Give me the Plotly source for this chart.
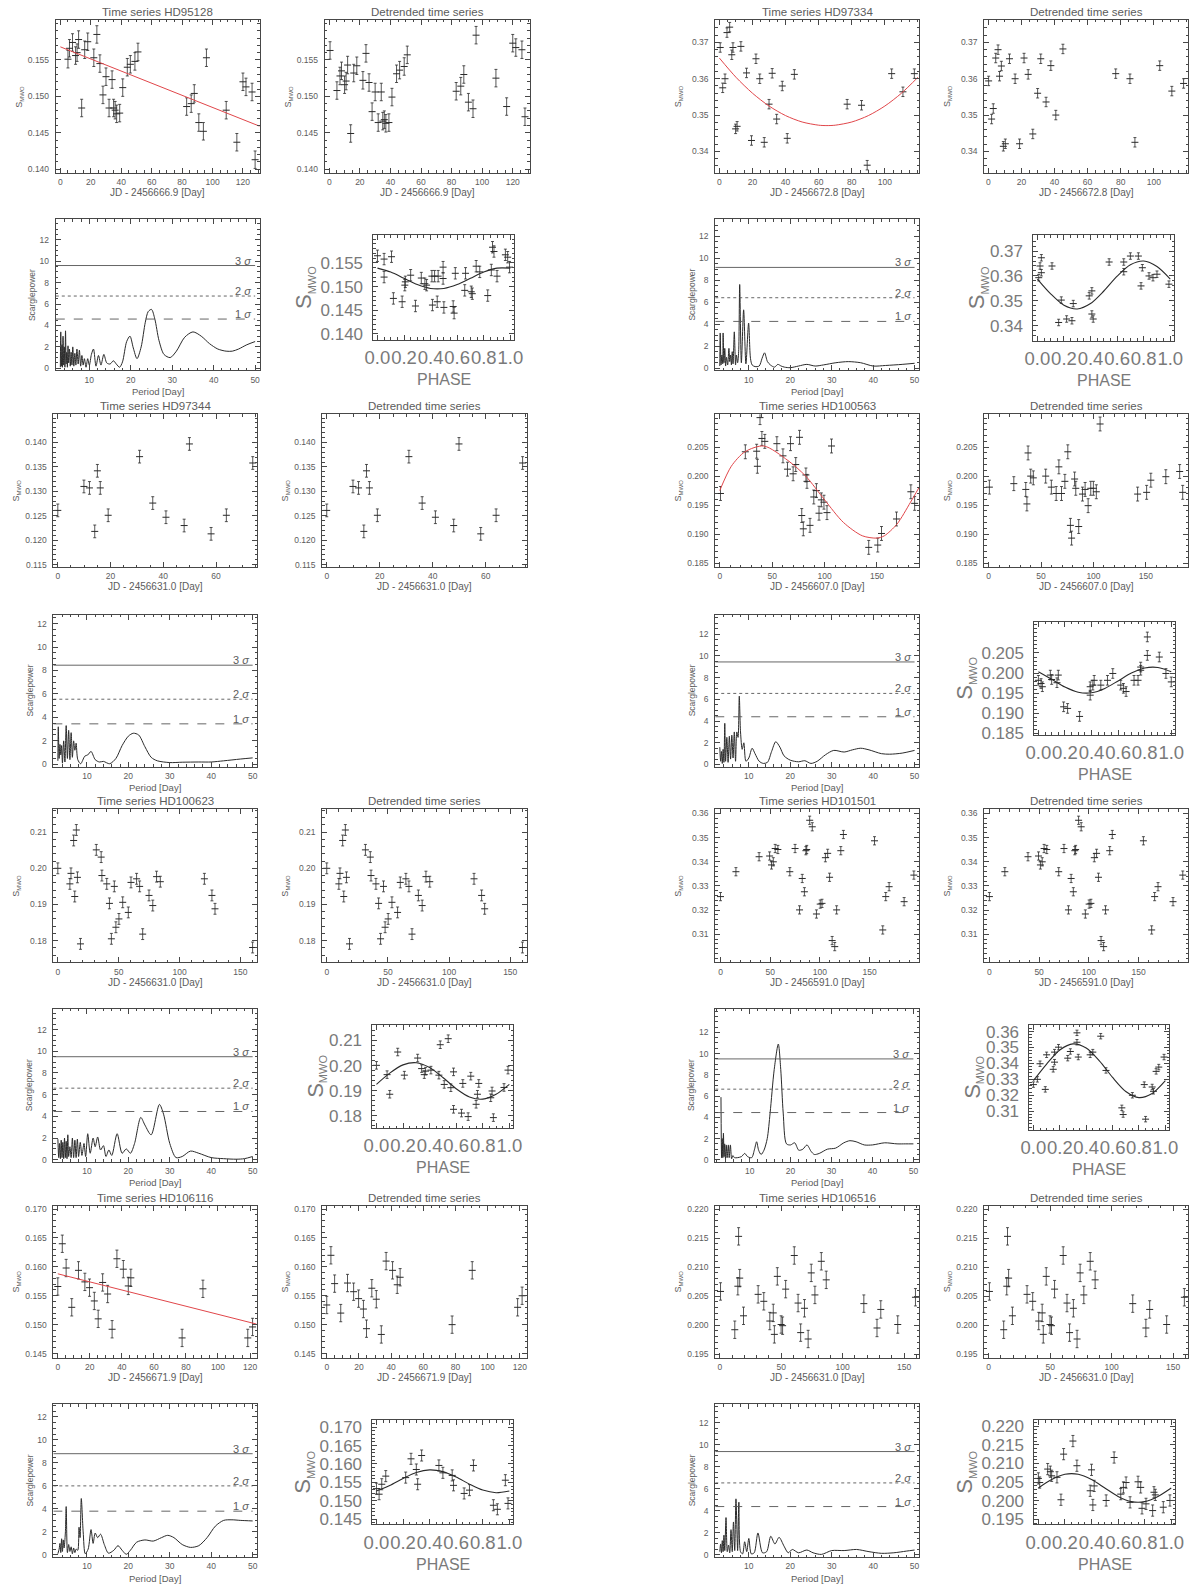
import plotly.graph_objects as go

W, H = 1200, 1590

# ====================== DATA ======================
PHASE_GRID = [0.0, 0.1, 0.2, 0.3, 0.4, 0.5, 0.6, 0.7, 0.8, 0.9, 1.0]

# ---- HD95128 ----
T_HD95128 = [5, 6, 8, 10, 11, 12, 14, 16, 18, 22, 24, 26, 28, 30, 32, 34, 35, 36, 37, 39, 41, 44, 46, 49, 51,
             83, 86, 88, 91, 94, 96, 109, 116, 120, 122, 126, 128]
S_HD95128 = [0.1551, 0.1566, 0.1574, 0.1556, 0.1560, 0.1578, 0.1484, 0.1564, 0.1575, 0.1553, 0.1585, 0.1545,
             0.1502, 0.1527, 0.1484, 0.1523, 0.1484, 0.1481, 0.1476, 0.1477, 0.1512, 0.1540, 0.1544, 0.1548,
             0.1561, 0.1486, 0.1490, 0.1504, 0.1464, 0.1452, 0.1553, 0.1481, 0.1437, 0.1520, 0.1513, 0.1506, 0.1413]
TD_HD95128 = [0.5, 5, 7, 8, 10, 11, 12, 14, 16, 18, 22, 24, 26, 28, 30, 32, 34, 35, 36, 37, 39, 41, 44, 46, 49, 51,
              83, 86, 88, 91, 94, 96, 109, 116, 120, 122, 126, 128]
SD_HD95128 = [0.1563, 0.1508, 0.1528, 0.1535, 0.1516, 0.1521, 0.1543, 0.1449, 0.1532, 0.1542, 0.1522, 0.1559,
              0.1519, 0.1479, 0.1506, 0.1464, 0.1506, 0.1466, 0.1468, 0.1463, 0.1464, 0.1499, 0.1531, 0.1536,
              0.1541, 0.1557, 0.1507, 0.1514, 0.1530, 0.1492, 0.1483, 0.1584, 0.1525, 0.1486, 0.1573, 0.1567,
              0.1564, 0.1472]
FIT_T_HD95128 = [0, 131]
FIT_S_HD95128 = [0.1568, 0.1459]
PER_HD95128 = [3.0, 3.1, 3.25, 3.4, 3.5, 3.65, 3.8, 3.95, 4.1, 4.25, 4.4, 4.55, 4.7, 4.85, 5.0, 5.2, 5.4, 5.6, 5.8,
               6.0, 6.25, 6.5, 6.75, 7.0, 7.3, 7.6, 7.9, 8.2, 8.5, 8.8, 9.2, 9.6, 10.0, 10.5, 11.0, 11.6, 12.2, 12.8,
               13.5, 14.2, 15.0, 15.8, 16.5, 17.3, 18.0, 19.0, 19.8, 20.6, 21.5, 22.5, 23.5, 24.2, 25.0, 25.8, 26.8,
               28.0, 29.5, 31.0, 33.0, 35.0, 37.0, 39.0, 41.0, 43.0, 44.5, 46.0, 48.0, 50.0]
POW_HD95128 = [0.1, 3.4, 0.2, 2.2, 0.1, 3.0, 0.3, 2.0, 0.1, 3.5, 0.4, 1.5, 0.1, 2.1, 0.5, 1.8, 0.2, 1.5, 0.3, 2.0,
               0.2, 1.4, 0.3, 1.8, 0.4, 1.7, 0.2, 1.2, 0.3, 0.9, 0.1, 0.9, 0.3, 1.3, 1.8, 0.2, 1.2, 0.3, 1.3, 0.5,
               0.4, 0.7, 0.4, 0.1, 0.6, 2.5, 3.0, 1.9, 0.9, 2.0, 4.3, 5.3, 5.5, 4.6, 2.6, 1.3, 1.0, 1.6, 2.9, 3.4,
               3.0, 2.3, 1.8, 1.6, 1.6, 1.8, 2.2, 2.5]
SIG_HD95128 = [4.6, 6.75, 9.6]
PH_HD95128 = [0.0, 0.05, 0.05, 0.106, 0.12, 0.186, 0.206, 0.21, 0.25, 0.286, 0.33, 0.357, 0.37, 0.41, 0.414, 0.43,
              0.45, 0.457, 0.494, 0.494, 0.5, 0.57, 0.577, 0.586, 0.657, 0.663, 0.706, 0.714, 0.743, 0.77, 0.83,
              0.857, 0.866, 0.877, 0.9, 0.963, 0.98, 0.994]
PHS_HD95128 = [0.1565, 0.1520, 0.1558, 0.1563, 0.1475, 0.1468, 0.1503, 0.1510, 0.1524, 0.1459, 0.1518, 0.1506,
               0.1503, 0.1522, 0.1461, 0.1522, 0.1468, 0.1522, 0.1541, 0.1517, 0.1456, 0.1458, 0.1444, 0.1528,
               0.1492, 0.1528, 0.1489, 0.1485, 0.1543, 0.1531, 0.1481, 0.1535, 0.1583, 0.1574, 0.1522, 0.1567,
               0.1562, 0.1541]
PHC_HD95128 = [0.15389, 0.15307, 0.15175, 0.15043, 0.14961, 0.14961, 0.15043, 0.15175, 0.15307, 0.15389, 0.15389]
ERR_HD95128 = 0.0012

# ---- HD97334 ----
T_HD97334 = [0.5, 2, 3.4, 4.6, 6.2, 7.5, 8.2, 9.8, 10.7, 13, 16.4, 19.4, 22.1, 24.4, 27.1, 30, 31.9, 34.6, 38, 41,
             45.3, 77.2, 85.9, 89.3, 104.1, 110.9, 117.8]
S_HD97334 = [0.3686, 0.3575, 0.3600, 0.3727, 0.3742, 0.3666, 0.3686, 0.3462, 0.3469, 0.3689, 0.3616, 0.3430,
             0.3655, 0.3600, 0.3425, 0.3530, 0.3615, 0.3489, 0.3580, 0.3436, 0.3612, 0.3530, 0.3527, 0.3362,
             0.3614, 0.3564, 0.3614]
TD_HD97334 = [0.2, 2, 3, 4.5, 5.9, 6.8, 7.9, 9.1, 10.3, 12.8, 16.2, 18.9, 21.6, 24.1, 26.9, 29.8, 31.7, 34.9, 37.8,
              40.8, 45.1, 77, 85.6, 88.6, 103.6, 110.9, 118]
SD_HD97334 = [0.3594, 0.3489, 0.3518, 0.3657, 0.3680, 0.3607, 0.3635, 0.3414, 0.3421, 0.3655, 0.3600, 0.3421,
              0.3657, 0.3612, 0.3448, 0.3560, 0.3655, 0.3536, 0.3636, 0.3500, 0.3682, 0.3614, 0.3600, 0.3425,
              0.3636, 0.3566, 0.3587]
FIT_T_HD97334 = [0, 10, 20, 30, 40, 50, 60, 65, 70, 80, 90, 100, 110, 120]
FIT_S_HD97334 = [0.36569, 0.36041, 0.35601, 0.35249, 0.34985, 0.34809, 0.34721, 0.34710, 0.34721, 0.34809,
                 0.34985, 0.35249, 0.35601, 0.36041]
PER_HD97334 = [3.0, 3.1, 3.3, 3.5, 3.7, 3.8, 4.0, 4.2, 4.4, 4.6, 4.9, 5.2, 5.4, 5.6, 5.8, 6.0, 6.2, 6.5, 6.8, 7.0,
               7.3, 7.55, 7.8, 8.2, 8.75, 9.3, 9.95, 10.4, 10.8, 11.5, 12.5, 13.2, 13.8, 14.5, 15.2, 16.2, 17.0,
               17.8, 18.6, 20.0, 22.0, 24.0, 26.0, 28.0, 31.0, 34.0, 37.0, 40.0, 43.0, 47.0, 50.0]
POW_HD97334 = [0.2, 3.2, 0.3, 1.2, 0.4, 3.2, 0.5, 1.8, 0.2, 1.0, 0.3, 1.8, 0.6, 1.2, 0.3, 1.5, 0.4, 3.3, 0.3, 1.2,
               0.5, 1.5, 7.6, 0.5, 5.3, 0.4, 4.1, 0.9, 0.3, 0.15, 0.2, 0.9, 1.4, 0.6, 0.3, 0.1, 0.35, 0.2, 0.1,
               0.05, 0.2, 0.35, 0.2, 0.3, 0.5, 0.6, 0.5, 0.2, 0.25, 0.35, 0.45]
SIG_HD97334 = [4.25, 6.4, 9.15]
PH_HD97334 = [0.01, 0.02, 0.03, 0.03, 0.11, 0.16, 0.18, 0.22, 0.26, 0.27, 0.39, 0.41, 0.41, 0.42, 0.54, 0.65, 0.65,
              0.70, 0.76, 0.78, 0.79, 0.84, 0.87, 0.90, 0.99]
PHS_HD97334 = [0.3593, 0.3640, 0.3673, 0.3613, 0.3640, 0.3413, 0.3503, 0.3427, 0.3420, 0.3489, 0.3520, 0.3540,
               0.3447, 0.3427, 0.3656, 0.3656, 0.3617, 0.3680, 0.3680, 0.3560, 0.3633, 0.3600, 0.3593, 0.3607,
               0.3567]
PHC_HD97334 = [0.35874, 0.35280, 0.34820, 0.34672, 0.34891, 0.35395, 0.35990, 0.36449, 0.36598, 0.36379, 0.35875]
ERR_HD97334 = 0.0013

# ---- HD97344 ----
T_HD97344 = [0, 9.9, 12, 14, 15, 16.1, 19.1, 31, 36, 41, 47.9, 49.9, 58.1, 63.9, 73.9]
S_HD97344 = [0.1261, 0.1310, 0.1307, 0.1218, 0.1342, 0.1307, 0.1251, 0.1371, 0.1276, 0.1247, 0.1230, 0.1397,
             0.1213, 0.1251, 0.1358]
TD_HD97344 = [0, 9.9, 12, 14, 15, 16.1, 19.1, 31, 36, 41, 47.9, 49.9, 58.1, 63.9, 73.9]
SD_HD97344 = [0.1261, 0.1310, 0.1307, 0.1218, 0.1342, 0.1307, 0.1251, 0.1371, 0.1276, 0.1247, 0.1230, 0.1397,
              0.1213, 0.1251, 0.1358]
PER_HD97344 = [3.0, 3.1, 3.3, 3.5, 3.7, 3.9, 4.1, 4.4, 4.7, 5.0, 5.3, 5.6, 5.9, 6.2, 6.5, 6.8, 7.1, 7.4, 7.8, 8.5,
               9.5, 10.2, 11.0, 12.0, 13.0, 14.0, 15.5, 17.0, 18.5, 20.0, 21.2, 22.5, 24.0, 25.5, 27.0, 30.0, 33.0,
               37.0, 40.0, 43.0, 47.0, 50.0]
POW_HD97344 = [0.3, 3.2, 0.5, 1.7, 0.8, 1.6, 0.1, 2.0, 0.2, 3.3, 0.5, 2.9, 0.4, 2.7, 0.6, 2.0, 1.2, 1.8, 0.4, 0.05,
               0.7, 0.8, 1.1, 0.4, 0.2, 0.25, 0.05, 0.5, 1.6, 2.4, 2.65, 2.5, 1.5, 0.6, 0.3, 0.15, 0.18, 0.2, 0.2,
               0.3, 0.45, 0.55]
SIG_HD97344 = [3.45, 5.55, 8.45]
ERR_HD97344 = 0.0013

# ---- HD100563 ----
T_HD100563 = [0.7, 24.4, 35.2, 35.9, 38.4, 40.2, 43, 54.5, 60.3, 64.6, 67.5, 70, 72.5, 76.1, 78.2, 79.7, 82.2,
              83.2, 86.1, 89.7, 92.2, 94.7, 96.9, 99.4, 102.3, 106.6, 142.1, 150.7, 154.3, 168.6, 182.3, 185.9]
S_HD100563 = [0.1970, 0.2042, 0.2043, 0.2017, 0.2101, 0.2065, 0.2060, 0.2056, 0.2035, 0.2012, 0.2056, 0.2004,
              0.2020, 0.2067, 0.1932, 0.1909, 0.2002, 0.1991, 0.1915, 0.1964, 0.1975, 0.1936, 0.1959, 0.1955,
              0.1937, 0.2052, 0.1877, 0.1881, 0.1901, 0.1926, 0.1973, 0.1953]
TD_HD100563 = [0.7, 24, 35.4, 36.5, 37.6, 40.1, 42.6, 54.4, 59.8, 64.4, 67, 69.5, 72.7, 75.5, 78, 79.1, 82, 83.1,
               85.9, 89.5, 92, 94.9, 97.4, 99.9, 102.7, 106.3, 142.1, 150.7, 154.7, 169, 182.2, 185.1]
SD_HD100563 = [0.1981, 0.1987, 0.1977, 0.1952, 0.2040, 0.2000, 0.1997, 0.2000, 0.1981, 0.1970, 0.2016, 0.1970,
               0.1991, 0.2042, 0.1915, 0.1893, 0.1995, 0.1979, 0.1913, 0.1969, 0.1977, 0.1949, 0.1979, 0.1979,
               0.1973, 0.2090, 0.1969, 0.1972, 0.1993, 0.1999, 0.2008, 0.1972]
FIT_T_HD100563 = [0, 11, 24, 42, 65, 82, 100, 118, 136, 150, 157, 169, 182, 190]
FIT_S_HD100563 = [0.1975, 0.2017, 0.2042, 0.2052, 0.2027, 0.2000, 0.1959, 0.1920, 0.1897, 0.1893, 0.1897, 0.1917,
                  0.1955, 0.1980]
PER_HD100563 = [3.0, 3.2, 3.4, 3.6, 3.8, 4.0, 4.2, 4.4, 4.7, 5.0, 5.3, 5.6, 5.9, 6.2, 6.5, 6.8, 7.1, 7.4, 7.7, 8.0,
                8.4, 8.8, 9.3, 10.0, 10.8, 11.5, 12.5, 13.5, 14.5, 15.5, 16.5, 17.5, 18.5, 20.0, 22.0, 23.5, 25.0,
                26.5, 28.5, 30.5, 33.0, 35.0, 37.0, 39.0, 42.0, 44.0, 47.0, 50.0]
POW_HD100563 = [1.6, 0.3, 1.2, 0.1, 1.4, 0.2, 3.8, 0.3, 2.5, 0.2, 2.6, 0.5, 2.7, 0.6, 3.0, 0.3, 3.0, 2.5, 6.3, 3.0,
                1.4, 2.0, 0.3, 0.6, 1.5, 1.0, 0.3, 0.1, 0.2, 1.2, 2.1, 1.6, 0.8, 0.4, 0.25, 0.35, 0.1, 0.3, 0.9,
                1.3, 1.15, 1.35, 1.5, 1.35, 1.0, 0.95, 1.05, 1.3]
SIG_HD100563 = [4.4, 6.55, 9.45]
PH_HD100563 = [0.0, 0.02, 0.03, 0.09, 0.10, 0.14, 0.15, 0.19, 0.22, 0.31, 0.39, 0.39, 0.41, 0.42, 0.47, 0.52, 0.56,
               0.62, 0.64, 0.66, 0.72, 0.75, 0.77, 0.77, 0.82, 0.82, 0.91, 0.96, 1.0]
PHS_HD100563 = [0.1982, 0.1974, 0.1966, 0.1995, 0.1984, 0.1976, 0.1995, 0.1916, 0.1912, 0.1892, 0.1966, 0.1945,
                0.1970, 0.1982, 0.1970, 0.1982, 0.1999, 0.1970, 0.1962, 0.1954, 0.1982, 0.1982, 0.2015, 0.2007,
                0.2090, 0.2044, 0.2040, 0.1999, 0.1978]
PHC_HD100563 = [0.20032, 0.19845, 0.19651, 0.19523, 0.19510, 0.19618, 0.19805, 0.19999, 0.20127, 0.20140, 0.20032]
ERR_HD100563 = 0.0012

# ---- HD100623 ----
T_HD100623 = [0, 9.9, 10.8, 13, 13.9, 15.2, 16.1, 18.6, 31.6, 35.6, 36.2, 40.2, 42.4, 44, 46.4, 47.7, 50.2, 53.3,
              57.9, 60.1, 64.7, 67.2, 69.7, 74.9, 78, 81.1, 84.2, 120.4, 126.6, 129.1, 160]
S_HD100623 = [0.2000, 0.1957, 0.1986, 0.2077, 0.1922, 0.2106, 0.1975, 0.1791, 0.2051, 0.2031, 0.1980, 0.1957,
              0.1903, 0.1805, 0.1950, 0.1837, 0.1860, 0.1906, 0.1878, 0.1961, 0.1971, 0.1950, 0.1818, 0.1925,
              0.1897, 0.1977, 0.1963, 0.1971, 0.1925, 0.1888, 0.1781]
TD_HD100623 = [0, 9.9, 10.8, 13, 13.9, 15.2, 16.1, 18.6, 31.6, 35.6, 36.2, 40.2, 42.4, 44, 46.4, 47.7, 50.2, 53.3,
               57.9, 60.1, 64.7, 67.2, 69.7, 74.9, 78, 81.1, 84.2, 120.4, 126.6, 129.1, 160]
SD_HD100623 = [0.2000, 0.1957, 0.1986, 0.2077, 0.1922, 0.2106, 0.1975, 0.1791, 0.2051, 0.2031, 0.1980, 0.1957,
               0.1903, 0.1805, 0.1950, 0.1837, 0.1860, 0.1906, 0.1878, 0.1961, 0.1971, 0.1950, 0.1818, 0.1925,
               0.1897, 0.1977, 0.1963, 0.1971, 0.1925, 0.1888, 0.1781]
PER_HD100623 = [3.0, 3.2, 3.4, 3.6, 3.8, 4.0, 4.2, 4.4, 4.6, 4.8, 5.0, 5.2, 5.4, 5.6, 5.9, 6.2, 6.5, 6.8, 7.1, 7.4,
                7.7, 8.0, 8.4, 8.8, 9.3, 9.7, 10.2, 10.8, 11.5, 12.0, 12.6, 13.3, 14.0, 14.6, 15.3, 16.0, 17.3,
                18.5, 19.5, 20.5, 21.5, 23.0, 24.0, 25.5, 27.5, 28.5, 30.0, 31.5, 33.0, 35.0, 37.0, 40.0, 43.0,
                46.0, 48.0, 50.0]
POW_HD100623 = [1.9, 0.2, 1.5, 0.1, 1.8, 0.2, 1.6, 0.1, 2.0, 0.2, 1.7, 0.1, 2.3, 0.3, 1.2, 0.2, 2.0, 0.2, 1.8, 0.2,
                1.9, 0.3, 1.6, 0.4, 1.5, 0.3, 2.4, 0.6, 2.0, 1.2, 2.1, 0.9, 1.3, 0.3, 0.9, 0.4, 2.4, 0.6, 1.0, 0.6,
                1.5, 3.9, 3.2, 2.3, 5.1, 4.2, 1.5, 0.2, 0.3, 0.8, 0.6, 0.2, 0.1, 0.05, 0.1, 0.3]
SIG_HD100623 = [4.45, 6.6, 9.5]
PH_HD100623 = [0.0, 0.08, 0.10, 0.16, 0.21, 0.31, 0.34, 0.36, 0.37, 0.41, 0.47, 0.48, 0.51, 0.54, 0.56, 0.58, 0.58,
               0.64, 0.65, 0.69, 0.71, 0.75, 0.76, 0.77, 0.86, 0.87, 0.88, 0.96, 0.99]
PHS_HD100623 = [0.2001, 0.1964, 0.1886, 0.2054, 0.1962, 0.2030, 0.1988, 0.1964, 0.1978, 0.1982, 0.1962, 0.2083,
                0.1925, 0.2107, 0.1912, 0.1975, 0.1826, 0.1811, 0.1929, 0.1797, 0.1958, 0.1846, 0.1886, 0.1929,
                0.1872, 0.1899, 0.1793, 0.1913, 0.1982]
PHC_HD100623 = [0.19254, 0.19701, 0.20029, 0.20114, 0.19922, 0.19527, 0.19079, 0.18751, 0.18666, 0.18858, 0.19254]
ERR_HD100623 = 0.0015

# ---- HD101501 ----
T_HD101501 = [0, 15.5, 38.8, 49.4, 51.3, 53.1, 55, 57.7, 69.7, 75, 79.5, 82.2, 84.4, 85.9, 86.7, 89.7, 92.3, 96.5,
              100.3, 102.1, 105.5, 107.8, 109.7, 112.3, 114.9, 116.8, 121, 123.6, 154.9, 163.2, 166.2, 169.6,
              184.7, 194.5]
S_HD101501 = [0.3256, 0.3359, 0.3421, 0.3424, 0.3387, 0.3400, 0.3455, 0.3451, 0.3359, 0.3455, 0.3201, 0.3331,
              0.3276, 0.3446, 0.3451, 0.3572, 0.3545, 0.3184, 0.3225, 0.3228, 0.3417, 0.3435, 0.3336, 0.3074,
              0.3049, 0.3201, 0.3446, 0.3513, 0.3487, 0.3118, 0.3256, 0.3297, 0.3235, 0.3345]
TD_HD101501 = [0, 15.5, 38.8, 49.4, 51.3, 53.1, 55, 57.7, 69.7, 75, 79.5, 82.2, 84.4, 85.9, 86.7, 89.7, 92.3, 96.5,
               100.3, 102.1, 105.5, 107.8, 109.7, 112.3, 114.9, 116.8, 121, 123.6, 154.9, 163.2, 166.2, 169.6,
               184.7, 194.5]
SD_HD101501 = [0.3256, 0.3359, 0.3421, 0.3424, 0.3387, 0.3400, 0.3455, 0.3451, 0.3359, 0.3455, 0.3201, 0.3331,
               0.3276, 0.3446, 0.3451, 0.3572, 0.3545, 0.3184, 0.3225, 0.3228, 0.3417, 0.3435, 0.3336, 0.3074,
               0.3049, 0.3201, 0.3446, 0.3513, 0.3487, 0.3118, 0.3256, 0.3297, 0.3235, 0.3345]
PER_HD101501 = [3.0, 3.15, 3.3, 3.45, 3.6, 3.75, 3.9, 4.1, 4.3, 4.5, 4.8, 5.0, 5.3, 5.6, 5.9, 6.3, 7.0, 8.0, 8.8,
                9.5, 10.5, 11.2, 11.7, 12.2, 12.8, 13.5, 14.3, 15.0, 16.0, 17.0, 17.6, 18.2, 19.0, 20.0, 21.0,
                22.0, 23.0, 24.0, 25.0, 25.8, 27.0, 29.0, 31.0, 33.0, 34.5, 36.0, 38.0, 40.0, 43.0, 46.0, 48.0, 50.0]
POW_HD101501 = [5.9, 0.2, 2.0, 0.2, 2.5, 0.3, 1.5, 0.1, 1.4, 0.2, 1.4, 0.2, 1.4, 0.1, 0.4, 0.2, 0.2, 0.3, 0.6, 0.3,
                0.2, 1.0, 1.7, 0.9, 0.5, 0.9, 2.0, 4.4, 8.5, 10.9, 8.5, 4.4, 1.5, 1.4, 1.6, 0.9, 1.0, 1.4, 0.8, 0.5,
                0.6, 1.0, 1.1, 1.6, 1.8, 1.7, 1.4, 1.4, 1.6, 1.5, 1.5, 1.5]
SIG_HD101501 = [4.45, 6.65, 9.5]
PH_HD101501 = [0.0, 0.03, 0.05, 0.09, 0.10, 0.15, 0.16, 0.16, 0.19, 0.26, 0.28, 0.33, 0.33, 0.34, 0.43, 0.45, 0.51,
               0.55, 0.67, 0.68, 0.75, 0.84, 0.85, 0.90, 0.91, 0.93, 0.95, 0.99]
PHS_HD101501 = [0.3267, 0.3300, 0.3398, 0.3237, 0.3454, 0.3363, 0.3408, 0.3471, 0.3502, 0.3433, 0.3475, 0.3592,
                0.3533, 0.3440, 0.3454, 0.3471, 0.3571, 0.3356, 0.3121, 0.3079, 0.3200, 0.3267, 0.3050, 0.3252,
                0.3225, 0.3350, 0.3377, 0.3440]
PHC_HD101501 = [0.32918, 0.33961, 0.34843, 0.35227, 0.34966, 0.34162, 0.33119, 0.32237, 0.31853, 0.32114, 0.32918]
ERR_HD101501 = 0.0017

# ---- HD106116 ----
T_HD106116 = [0, 2.8, 5.2, 8.7, 12.9, 16.9, 19.8, 22.8, 25.2, 28, 31.1, 33.9, 36.9, 40.9, 44, 45.6, 77.6, 90.6,
              118.6, 121.6]
S_HD106116 = [0.1566, 0.1640, 0.1598, 0.1530, 0.1594, 0.1574, 0.1564, 0.1541, 0.1510, 0.1573, 0.1553, 0.1492,
              0.1614, 0.1596, 0.1567, 0.1581, 0.1477, 0.1562, 0.1477, 0.1496]
TD_HD106116 = [0, 2.6, 4.9, 8.7, 12.9, 16.7, 19.8, 22.8, 24.7, 28, 30.8, 33.9, 36.9, 40.9, 43.8, 45.6, 77.9, 90.4,
               118.6, 121.4]
SD_HD106116 = [0.1534, 0.1620, 0.1571, 0.1520, 0.1572, 0.1557, 0.1545, 0.1527, 0.1493, 0.1563, 0.1544, 0.1483,
               0.1610, 0.1594, 0.1569, 0.1582, 0.1500, 0.1594, 0.1530, 0.1550]
FIT_T_HD106116 = [0, 124]
FIT_S_HD106116 = [0.1588, 0.1501]
PER_HD106116 = [3.0, 3.3, 3.5, 3.7, 3.9, 4.1, 4.3, 4.5, 4.8, 5.0, 5.3, 5.6, 5.9, 6.2, 6.5, 6.8, 7.1, 7.4, 7.8, 8.1,
                8.35, 8.65, 9.1, 9.6, 10.3, 11.0, 11.5, 12.0, 12.6, 13.3, 14.2, 15.2, 16.5, 17.5, 18.5, 19.5, 20.5,
                22.0, 24.0, 26.0, 28.0, 29.5, 31.0, 33.0, 35.0, 37.0, 39.0, 41.0, 43.0, 45.0, 47.0, 50.0]
POW_HD106116 = [0.1, 0.5, 1.0, 0.2, 1.4, 0.3, 1.3, 0.6, 1.9, 4.2, 0.2, 0.9, 0.3, 0.7, 0.1, 0.6, 0.2, 0.5, 0.4, 2.4,
                1.5, 4.9, 2.0, 0.1, 0.5, 2.2, 1.0, 1.9, 1.5, 1.8, 0.9, 0.15, 0.4, 0.8, 0.4, 0.05, 0.4, 1.1, 1.3, 1.2,
                1.5, 1.7, 1.5, 0.9, 0.65, 0.8, 1.5, 2.5, 3.0, 3.05, 3.0, 2.95]
SIG_HD106116 = [3.8, 6.0, 8.8]
PH_HD106116 = [0.0, 0.02, 0.04, 0.07, 0.22, 0.26, 0.30, 0.31, 0.34, 0.47, 0.50, 0.57, 0.58, 0.66, 0.70, 0.73, 0.88,
               0.91, 0.97, 0.99]
PHS_HD106116 = [0.1533, 0.1518, 0.1545, 0.1567, 0.1563, 0.1614, 0.1585, 0.1545, 0.1623, 0.1596, 0.1576, 0.1569,
                0.1542, 0.1520, 0.1529, 0.1596, 0.1488, 0.1477, 0.1556, 0.1493]
PHC_HD106116 = [0.15268, 0.15416, 0.15607, 0.15769, 0.15839, 0.15792, 0.15644, 0.15453, 0.15291, 0.15221, 0.15268]
ERR_HD106116 = 0.0015

# ---- HD106516 ----
T_HD106516 = [0.6, 12.2, 14.7, 15.3, 16.2, 19.3, 31.2, 35.8, 40.7, 43.5, 44.4, 46.8, 49.9, 51.1, 53.6, 60.6, 63.7,
              65.8, 68.9, 71.9, 74.4, 77.4, 82.6, 86.6, 117.2, 127.9, 131, 144.8, 159.2]
S_HD106516 = [0.2058, 0.1992, 0.2067, 0.2153, 0.2081, 0.2016, 0.2053, 0.2041, 0.2007, 0.2021, 0.1984, 0.2084,
              0.2001, 0.1999, 0.2062, 0.2120, 0.2038, 0.1987, 0.2029, 0.1976, 0.2090, 0.2052, 0.2110, 0.2078,
              0.2037, 0.1995, 0.2027, 0.2001, 0.2048]
TD_HD106516 = [0.6, 12.2, 14.7, 15.3, 16.2, 19.3, 31.2, 35.8, 40.7, 43.5, 44.4, 46.8, 49.9, 51.1, 53.6, 60.6, 63.7,
               65.8, 68.9, 71.9, 74.4, 77.4, 82.6, 86.6, 117.2, 127.9, 131, 144.8, 159.2]
SD_HD106516 = [0.2058, 0.1992, 0.2067, 0.2153, 0.2081, 0.2016, 0.2053, 0.2041, 0.2007, 0.2021, 0.1984, 0.2084,
               0.2001, 0.1999, 0.2062, 0.2120, 0.2038, 0.1987, 0.2029, 0.1976, 0.2090, 0.2052, 0.2110, 0.2078,
               0.2037, 0.1995, 0.2027, 0.2001, 0.2048]
PER_HD106516 = [3.0, 3.2, 3.4, 3.6, 3.8, 4.0, 4.2, 4.5, 4.8, 5.1, 5.4, 5.7, 6.0, 6.3, 6.6, 6.9, 7.3, 7.6, 8.0, 8.5,
                9.0, 9.5, 10.0, 10.6, 11.3, 12.2, 13.3, 14.3, 15.3, 16.3, 17.3, 18.5, 19.5, 20.5, 22.0, 24.0, 25.5,
                27.5, 30.0, 33.0, 36.0, 39.0, 42.0, 45.0, 48.0, 50.0]
POW_HD106516 = [0.3, 1.0, 0.2, 1.3, 0.3, 1.8, 0.4, 3.4, 0.3, 0.9, 0.2, 2.3, 0.3, 3.0, 0.4, 5.1, 0.4, 4.8, 0.3, 0.1,
                1.2, 0.3, 1.5, 0.1, 0.2, 2.0, 0.2, 0.3, 1.7, 1.0, 1.6, 0.8, 0.2, 0.5, 0.2, 0.45, 0.2, 0.05, 0.4, 0.4,
                0.5, 0.3, 0.15, 0.2, 0.35, 0.45]
SIG_HD106516 = [4.4, 6.55, 9.4]
PH_HD106516 = [0.0, 0.01, 0.07, 0.09, 0.10, 0.14, 0.17, 0.19, 0.26, 0.29, 0.39, 0.40, 0.41, 0.42, 0.51, 0.57, 0.62,
               0.64, 0.66, 0.69, 0.75, 0.77, 0.78, 0.81, 0.86, 0.87, 0.88, 0.94, 0.99]
PHS_HD106516 = [0.2060, 0.2049, 0.2085, 0.2078, 0.2067, 0.2063, 0.2003, 0.2125, 0.2160, 0.2094, 0.2027, 0.2083,
                0.1989, 0.2040, 0.2001, 0.2116, 0.2018, 0.2036, 0.2049, 0.1996, 0.2051, 0.2036, 0.1980, 0.1992,
                0.1974, 0.2023, 0.2016, 0.1983, 0.2001]
PHC_HD106516 = [0.20345, 0.20571, 0.20711, 0.20711, 0.20571, 0.20345, 0.20119, 0.19979, 0.19979, 0.20119, 0.20345]
ERR_HD106516 = 0.0015

# ====================== STYLE ======================
FONT = "Liberation Sans, Arial, sans-serif"
TXT = "#5c5c5c"
TXT_BIG = "#7a7a7a"
LINE = "#474747"
PT = "#2a2a2a"
RED = "#e0464a"

fig = go.Figure()
layout = {}
annotations = []
counter = [0]


def dom(box):
    x0, x1, y0, y1 = box
    return [x0 / W, x1 / W], [1 - y1 / H, 1 - y0 / H]


def new_axes(box, xr, yr, xt, yt, xfmt, yfmt, xminor, yminor, xfs, yfs, xstand, ystand, tcol=TXT):
    counter[0] += 1
    n = counter[0]
    s = '' if n == 1 else str(n)
    xd, yd = dom(box)
    common = dict(showgrid=False, zeroline=False, showline=True, linecolor=LINE, linewidth=1, mirror='ticks',
                  ticks='inside', ticklen=5, tickwidth=1, tickcolor=LINE, tickangle=0, fixedrange=True,
                  tickmode='array')
    layout['xaxis' + s] = dict(common, domain=xd, range=xr, tickvals=xt, tickformat=xfmt, anchor='y' + s,
                               ticklabelstandoff=xstand, tickfont=dict(family=FONT, size=xfs, color=tcol),
                               minor=dict(ticks='inside', ticklen=2.5, tickwidth=1, tickcolor=LINE,
                                          tickmode='linear', tick0=0, dtick=xminor))
    layout['yaxis' + s] = dict(common, domain=yd, range=yr, tickvals=yt, tickformat=yfmt, anchor='x' + s,
                               ticklabelstandoff=ystand, tickfont=dict(family=FONT, size=yfs, color=tcol),
                               minor=dict(ticks='inside', ticklen=2.5, tickwidth=1, tickcolor=LINE,
                                          tickmode='linear', tick0=0, dtick=yminor))
    return 'x' + s, 'y' + s


def text(xp, yp, t, size, angle=0, color=TXT, xanchor='center', yanchor='middle'):
    annotations.append(dict(x=xp / W, y=1 - yp / H, xref='paper', yref='paper', text=t, showarrow=False,
                            textangle=angle, xanchor=xanchor, yanchor=yanchor,
                            font=dict(family=FONT, size=size, color=color)))


def points(xa, ya, xs, ys, err):
    assert len(xs) == len(ys)
    fig.add_trace(go.Scatter(x=xs, y=ys, mode='markers', xaxis=xa, yaxis=ya, showlegend=False, hoverinfo='skip',
                             marker=dict(symbol='line-ew', size=5, color=PT, line=dict(width=1, color=PT)),
                             error_y=dict(type='constant', value=err, thickness=0.8, width=1.5, color=PT)))


def curve(xa, ya, xs, ys, color, width=1.0, shape='spline', dash='solid'):
    assert len(xs) == len(ys)
    fig.add_trace(go.Scatter(x=xs, y=ys, mode='lines', xaxis=xa, yaxis=ya, showlegend=False, hoverinfo='skip',
                             line=dict(color=color, width=width, shape=shape, smoothing=0.8, dash=dash)))


SMWO_SMALL = "S<sub><span style='font-size:6px'>MWO</span></sub>"
SMWO_BIG = "S<sub><span style='font-size:11px'>MWO</span></sub>"

# ====================== PANELS ======================
STARS = [
    dict(name='HD95128', jd='2456666.9', side=0, g=0, t=T_HD95128, s=S_HD95128, td=TD_HD95128, sd=SD_HD95128,
         fit=(FIT_T_HD95128, FIT_S_HD95128), per=PER_HD95128, pw=POW_HD95128, sig=SIG_HD95128,
         ph=(PH_HD95128, PHS_HD95128, PHC_HD95128), err=ERR_HD95128,
         xr=[-3, 131], xt=[0, 20, 40, 60, 80, 100, 120], xm=5,
         yr=[0.1395, 0.1605], yt=[0.140, 0.145, 0.150, 0.155], yf='.3f', ym=0.001,
         ptop=13.9, phr=[0.1388, 0.1608]),
    dict(name='HD97334', jd='2456672.8', side=1, g=0, t=T_HD97334, s=S_HD97334, td=TD_HD97334, sd=SD_HD97334,
         fit=(FIT_T_HD97334, FIT_S_HD97334), per=PER_HD97334, pw=POW_HD97334, sig=SIG_HD97334,
         ph=(PH_HD97334, PHS_HD97334, PHC_HD97334), err=ERR_HD97334,
         xr=[-2.5, 120.7], xt=[0, 20, 40, 60, 80, 100], xm=5,
         yr=[0.3341, 0.3762], yt=[0.34, 0.35, 0.36, 0.37], yf='.2f', ym=0.002,
         ptop=13.5, phr=[0.334, 0.3763]),
    dict(name='HD97344', jd='2456631.0', side=0, g=1, t=T_HD97344, s=S_HD97344, td=TD_HD97344, sd=SD_HD97344,
         fit=None, per=PER_HD97344, pw=POW_HD97344, sig=SIG_HD97344, ph=None, err=ERR_HD97344,
         xr=[-1.7, 75.6], xt=[0, 20, 40, 60], xm=5,
         yr=[0.1145, 0.1458], yt=[0.115, 0.120, 0.125, 0.130, 0.135, 0.140], yf='.3f', ym=0.001,
         ptop=12.75, phr=None),
    dict(name='HD100563', jd='2456607.0', side=1, g=1, t=T_HD100563, s=S_HD100563, td=TD_HD100563, sd=SD_HD100563,
         fit=(FIT_T_HD100563, FIT_S_HD100563), per=PER_HD100563, pw=POW_HD100563, sig=SIG_HD100563,
         ph=(PH_HD100563, PHS_HD100563, PHC_HD100563), err=ERR_HD100563,
         xr=[-4.3, 190.2], xt=[0, 50, 100, 150], xm=10,
         yr=[0.1843, 0.2107], yt=[0.185, 0.190, 0.195, 0.200, 0.205], yf='.3f', ym=0.001,
         ptop=13.8, phr=[0.1846, 0.2128]),
    dict(name='HD100623', jd='2456631.0', side=0, g=2, t=T_HD100623, s=S_HD100623, td=TD_HD100623, sd=SD_HD100623,
         fit=None, per=PER_HD100623, pw=POW_HD100623, sig=SIG_HD100623,
         ph=(PH_HD100623, PHS_HD100623, PHC_HD100623), err=ERR_HD100623,
         xr=[-3.7, 163.8], xt=[0, 50, 100, 150], xm=10,
         yr=[0.174, 0.2163], yt=[0.18, 0.19, 0.20, 0.21], yf='.2f', ym=0.002,
         ptop=13.9, phr=[0.1751, 0.2162]),
    dict(name='HD101501', jd='2456591.0', side=1, g=2, t=T_HD101501, s=S_HD101501, td=TD_HD101501, sd=SD_HD101501,
         fit=None, per=PER_HD101501, pw=POW_HD101501, sig=SIG_HD101501,
         ph=(PH_HD101501, PHS_HD101501, PHC_HD101501), err=ERR_HD101501,
         xr=[-5.3, 199.8], xt=[0, 50, 100, 150], xm=10,
         yr=[0.2984, 0.3617], yt=[0.31, 0.32, 0.33, 0.34, 0.35, 0.36], yf='.2f', ym=0.002,
         ptop=14.2, phr=[0.2981, 0.3642]),
    dict(name='HD106116', jd='2456671.9', side=0, g=3, t=T_HD106116, s=S_HD106116, td=TD_HD106116, sd=SD_HD106116,
         fit=(FIT_T_HD106116, FIT_S_HD106116), per=PER_HD106116, pw=POW_HD106116, sig=SIG_HD106116,
         ph=(PH_HD106116, PHS_HD106116, PHC_HD106116), err=ERR_HD106116,
         xr=[-2.8, 124.5], xt=[0, 20, 40, 60, 80, 100, 120], xm=5,
         yr=[0.1443, 0.1706], yt=[0.145, 0.150, 0.155, 0.160, 0.165, 0.170], yf='.3f', ym=0.001,
         ptop=13.1, phr=[0.1436, 0.1719]),
    dict(name='HD106516', jd='2456631.0', side=1, g=3, t=T_HD106516, s=S_HD106516, td=TD_HD106516, sd=SD_HD106516,
         fit=None, per=PER_HD106516, pw=POW_HD106516, sig=SIG_HD106516,
         ph=(PH_HD106516, PHS_HD106516, PHC_HD106516), err=ERR_HD106516,
         xr=[-3.7, 162.2], xt=[0, 50, 100, 150], xm=10,
         yr=[0.1944, 0.2206], yt=[0.195, 0.200, 0.205, 0.210, 0.215, 0.220], yf='.3f', ym=0.001,
         ptop=13.7, phr=[0.1937, 0.2216]),
]

# pixel geometry of the page grid
TS_Y = [(17, 171), (414, 568), (812, 966), (1211, 1364)]
PG_Y = [(218, 370), (616, 769), (1013, 1167), (1411, 1565)]
PH_Y = {(0, 0): (234, 339), (1, 0): (234, 340), (1, 1): (623, 737), (0, 2): (1029, 1133), (1, 2): (1029, 1135),
        (0, 3): (1427, 1532), (1, 3): (1427, 1532)}
PH_X = {(0, 0): (370, 513), (1, 0): (1040, 1183), (1, 1): (1041, 1184), (0, 2): (369, 512), (1, 2): (1036, 1178),
        (0, 3): (369, 512), (1, 3): (1041, 1184)}
TS_X = {0: (45, 252), 1: (717, 924)}
DT_X = {0: (318, 526), 1: (990, 1197)}

for st in STARS:
    sd_, g = st['side'], st['g']
    shift = 2.5 if (g == 0 and sd_ == 0) else 0
    ty0, ty1 = TS_Y[g]
    # ---- raw time series ----
    tx0, tx1 = TS_X[sd_][0] + shift, TS_X[sd_][1] + shift
    xa, ya = new_axes((tx0, tx1, ty0, ty1), st['xr'], st['yr'], st['xt'], st['yt'], 'd', st['yf'],
                      st['xm'], st['ym'], 8.5, 8.5, 1, 4)
    points(xa, ya, st['t'], st['s'], st['err'])
    if st['fit'] is not None:
        curve(xa, ya, st['fit'][0], st['fit'][1], RED, 1.0)
    cx = (tx0 + tx1) / 2
    text(cx, ty0 - 8, 'Time series ' + st['name'], 11.5)
    text(cx, ty1 + 20, 'JD - ' + st['jd'] + ' [Day]', 10)
    text(tx0 - 37, (ty0 + ty1) / 2, SMWO_SMALL, 9, angle=-90)
    # ---- detrended ----
    dx0, dx1 = DT_X[sd_][0] + shift, DT_X[sd_][1] + shift
    xa, ya = new_axes((dx0, dx1, ty0, ty1), st['xr'], st['yr'], st['xt'], st['yt'], 'd', st['yf'],
                      st['xm'], st['ym'], 8.5, 8.5, 1, 4)
    points(xa, ya, st['td'], st['sd'], st['err'])
    cx = (dx0 + dx1) / 2
    text(cx, ty0 - 8, 'Detrended time series', 11.5)
    text(cx, ty1 + 20, 'JD - ' + st['jd'] + ' [Day]', 10)
    text(dx0 - 37, (ty0 + ty1) / 2, SMWO_SMALL, 9, angle=-90)
    # ---- periodogram ----
    py0, py1 = PG_Y[g]
    pr = [1.6, 51.4] if st['name'] == 'HD101501' else [1.9, 51.1]
    xa, ya = new_axes((tx0, tx1, py0, py1), pr, [-0.2, st['ptop']], [10, 20, 30, 40, 50],
                      [0, 2, 4, 6, 8, 10, 12], 'd', 'd', 2, 0.5, 8.5, 8.5, 1, 4)
    curve(xa, ya, st['per'], st['pw'], PT, 1.0, shape='spline')
    dashes = ['dash', 'dot', 'solid']
    for k, lvl in enumerate(st['sig']):
        curve(xa, ya, [pr[0], 50], [lvl, lvl], '#555555', 0.9, shape='linear', dash=dashes[k])
        annotations.append(dict(x=49.5, y=lvl, xref=xa, yref=ya, text=f"{k + 1} <i>σ</i>", showarrow=False,
                                xanchor='right', yanchor='bottom', yshift=-3,
                                font=dict(family=FONT, size=11, color=TXT)))
    text((tx0 + tx1) / 2, py1 + 21, 'Period [Day]', 9.5)
    text(tx0 - 24, (py0 + py1) / 2, 'Scarglepower', 8.5, angle=-90)
    # ---- phase plot ----
    if st['ph'] is not None:
        hy0, hy1 = PH_Y[(sd_, g)]
        hx0, hx1 = PH_X[(sd_, g)]
        xa, ya = new_axes((hx0, hx1, hy0, hy1), [-0.03, 1.03], st['phr'], [0, 0.2, 0.4, 0.6, 0.8, 1.0],
                          st['yt'] if st['name'] != 'HD95128' else [0.140, 0.145, 0.150, 0.155],
                          '.1f', st['yf'], 0.05, st['ym'], 18.5, 17, 1, 6, tcol=TXT_BIG)
        points(xa, ya, st['ph'][0], st['ph'][1], st['err'])
        curve(xa, ya, PHASE_GRID, st['ph'][2], PT, 1.1)
        text((hx0 + hx1) / 2, hy1 + 40, 'PHASE', 16, color=TXT_BIG)
        off = 70 if st['yf'] == '.3f' else 57
        text(hx0 - off, (hy0 + hy1) / 2, SMWO_BIG, 22, angle=-90, color=TXT_BIG)

fig.update_layout(width=W, height=H, margin=dict(l=0, r=0, t=0, b=0), paper_bgcolor='white',
                  plot_bgcolor='white', showlegend=False, annotations=annotations, **layout)
fig.write_html("out.html", config={'displayModeBar': False, 'staticPlot': True},
               post_script="document.body.style.margin='0px';")
